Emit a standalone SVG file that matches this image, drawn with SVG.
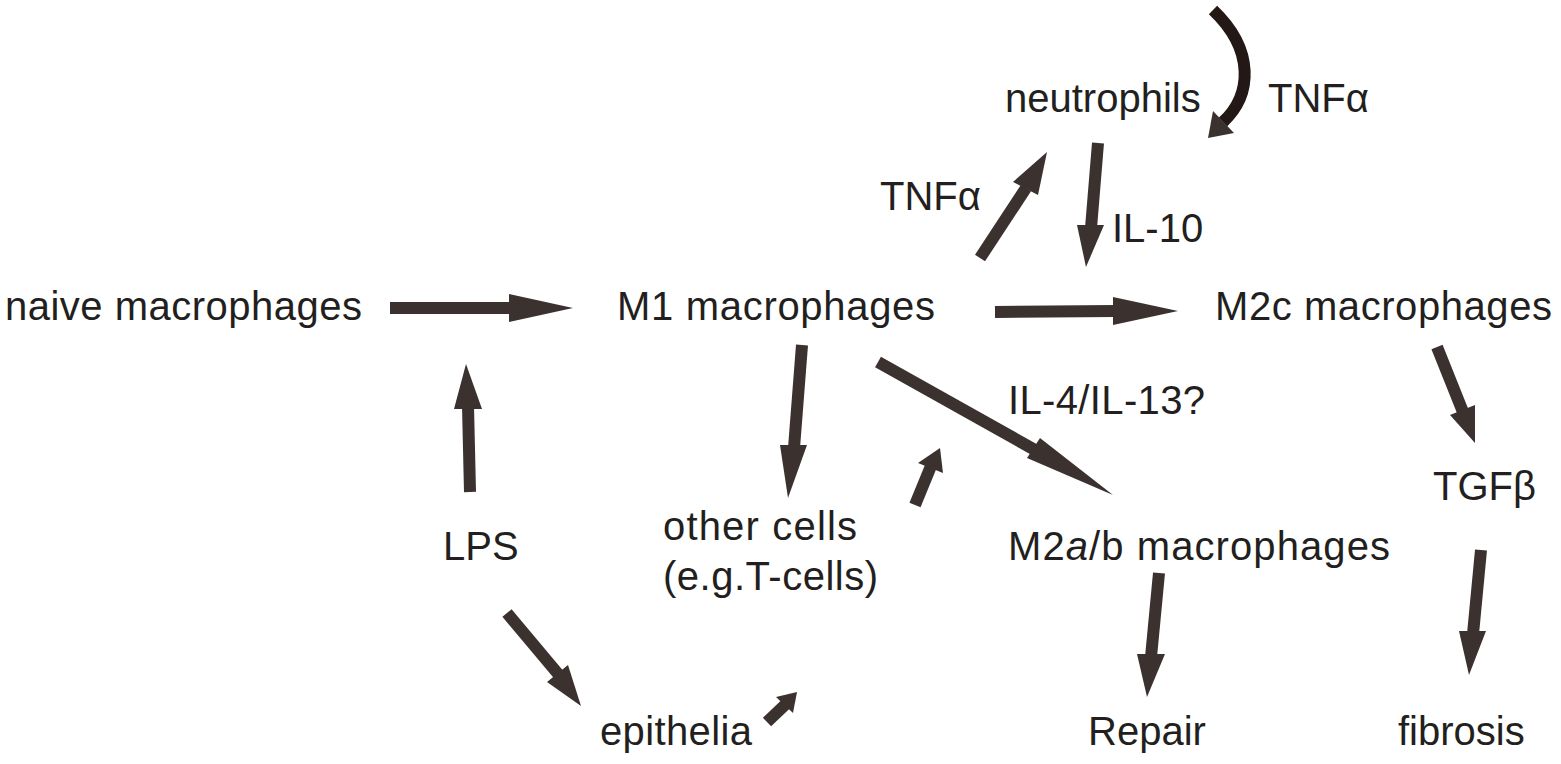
<svg xmlns="http://www.w3.org/2000/svg" width="1561" height="764" viewBox="0 0 1561 764">
<style>
text{font-family:"Liberation Sans",Arial,sans-serif;font-size:40px;fill:#231f20}
.s{stroke:#3b3230;stroke-width:12;fill:none}
.h{fill:#3b3230}
.c{stroke:#231815;stroke-width:12;fill:none}
</style>
<rect width="1561" height="764" fill="#fff"/>
<g id="naive"><text x="5" y="320" textLength="357">naive macrophages</text></g>
<g id="m1"><text x="617" y="320" textLength="318">M1 macrophages</text></g>
<g id="m2c"><text x="1215" y="320" textLength="337">M2c macrophages</text></g>
<g id="neutrophils"><text x="1005" y="112">neutrophils</text></g>
<g id="tnfa1"><text x="1268" y="112">TNFα</text></g>
<g id="tnfa2"><text x="880" y="210">TNFα</text></g>
<g id="il10"><text x="1112" y="242">IL-10</text></g>
<g id="il4"><text x="1008" y="414" textLength="197">IL-4/IL-13?</text></g>
<g id="tgfb"><text x="1433" y="500">TGFβ</text></g>
<g id="lps"><text x="443" y="560">LPS</text></g>
<g id="other"><text x="663" y="540" textLength="194">other cells</text><text x="663" y="590" textLength="215">(e.g.T-cells)</text></g>
<g id="m2ab"><text x="1008" y="560" textLength="382">M2<tspan font-style="italic">a</tspan>/b macrophages</text></g>
<g id="epithelia"><text x="600" y="745" textLength="152">epithelia</text></g>
<g id="repair"><text x="1088" y="745">Repair</text></g>
<g id="fibrosis"><text x="1398" y="745">fibrosis</text></g>
<g id="connectors">
<line class="s" x1="390" y1="308" x2="512" y2="308"/><polygon class="h" points="509,294 573,308 509,322"/>
<line class="s" x1="995" y1="312" x2="1116" y2="311"/><polygon class="h" points="1113,297 1178,311 1113,325"/>
<line class="s" x1="980" y1="258" x2="1026" y2="188"/><polygon class="h" points="1013,182 1047,152 1038,195"/>
<line class="s" x1="1098" y1="143" x2="1091" y2="228"/><polygon class="h" points="1077,225 1086,267 1104,225"/>
<line class="s" x1="1437" y1="347" x2="1463" y2="412"/><polygon class="h" points="1450,415 1475,443 1475,405"/>
<line class="s" x1="470" y1="492" x2="468" y2="406"/><polygon class="h" points="454,409 466,364 482,409"/>
<line class="s" x1="507" y1="613" x2="559" y2="675"/><polygon class="h" points="547,682 581,706 568,665"/>
<line class="s" x1="767" y1="722" x2="787" y2="703"/><polygon class="h" points="776,697 797,692 793,713"/>
<line class="s" x1="915" y1="505" x2="931" y2="466"/><polygon class="h" points="918,463 940,448 943,473"/>
<line class="s" x1="802" y1="345" x2="794" y2="448"/><polygon class="h" points="780,445 788,498 807,445"/>
<line class="s" x1="878" y1="362" x2="1035" y2="450"/><polygon class="h" points="1027,458 1113,495 1040,438"/>
<line class="s" x1="1159" y1="573" x2="1151" y2="657"/><polygon class="h" points="1137,654 1147,697 1165,654"/>
<line class="s" x1="1481" y1="550" x2="1473" y2="634"/><polygon class="h" points="1459,631 1469,675 1486,631"/>
<path class="c" d="M1213,10 C1255,50 1252,95 1223,122"/><polygon fill="#3b3230" points="1213,111 1208,138 1234,133"/>
</g>
</svg>
